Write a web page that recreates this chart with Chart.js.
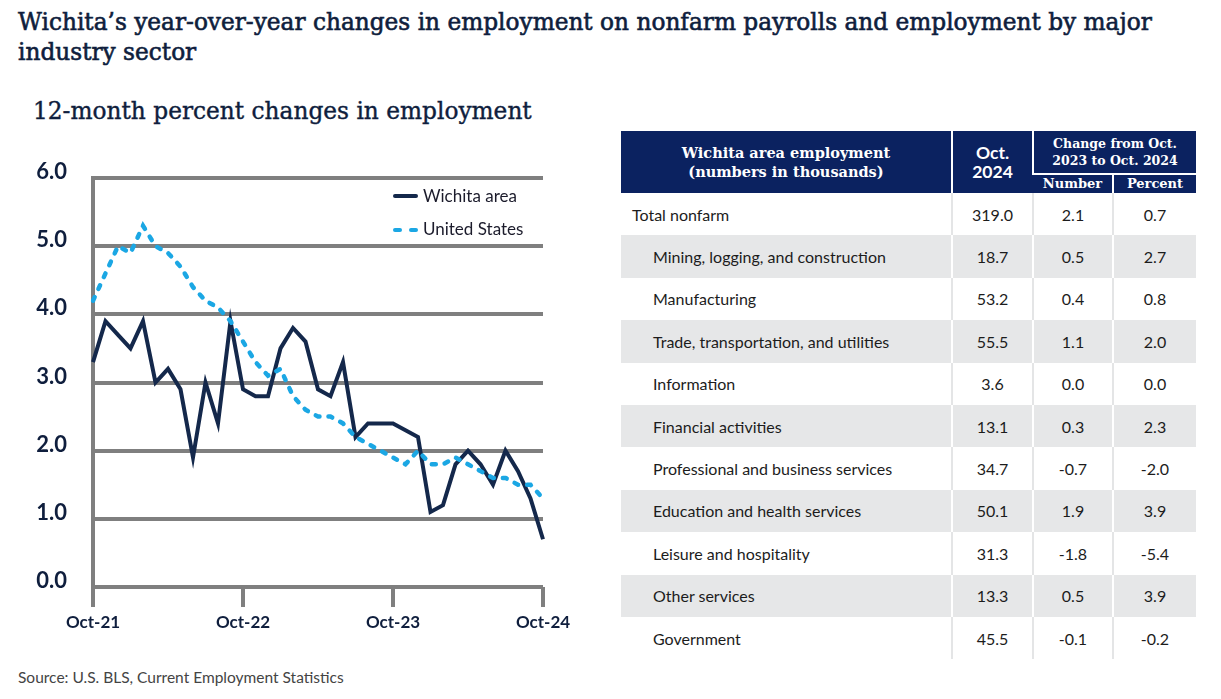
<!DOCTYPE html>
<html>
<head>
<meta charset="utf-8">
<script src="https://cdn.jsdelivr.net/npm/chart.js@4.4.1/dist/chart.umd.min.js"></script>
<style>
  body { margin: 0; background: #fff; }
  #page { position: relative; width: 1221px; height: 699px; overflow: hidden; background: #fff; }
  .slab { font-family: "DejaVu Serif", serif; color: #0f1e3d; }
  #title { position: absolute; left: 18px; top: 7px; font-size: 20px; line-height: 30px; font-weight: normal; -webkit-text-stroke: 0.6px #0f1e3d; white-space: nowrap; }
  #subtitle { position: absolute; left: 33px; top: 97px; font-size: 21px; line-height: 28px; font-weight: normal; -webkit-text-stroke: 0.4px #0f1e3d; white-space: nowrap; }
  #chartBox { position: absolute; left: 0; top: 150px; width: 600px; height: 510px; }
  .leg { position: absolute; left: 423px; font-family: Lato, sans-serif; font-size: 17px; line-height: 20px; color: #1b1b2b; white-space: nowrap; }
  .swatch { position: absolute; height: 4px; border-radius: 2px; }
  #source { position: absolute; left: 18px; top: 667px; font-family: Lato, sans-serif; font-size: 15.5px; line-height: 20px; color: #444; }
  #tbl { position: absolute; left: 621px; top: 131px; width: 575px; border-collapse: collapse; table-layout: fixed; font-family: Lato, sans-serif; font-size: 16px; color: #1c1c1c; }
  #tbl th { background: #0b2260; color: #fff; font-weight: normal; padding: 0; text-align: center; border-left: 2px solid #fff; }
  #tbl th:first-child { border-left: none; }
  #tbl th.serif { font-family: "DejaVu Serif", serif; font-weight: bold; }
  #tbl td { padding: 0; text-align: center; height: 42.4px; border-left: 2px solid #e4e5e6; }
  #tbl td:first-child { text-align: left; padding-left: 32px; border-left: none; }
  #tbl tr.first td:first-child { padding-left: 11px; }
  #tbl tr.band td { background: #e6e7e8; border-left-color: #fff; }
  #tbl tr.sub th { border-top: 2px solid #fff; height: 18px; font-size: 13px; line-height: 18px; }
</style>
</head>
<body>
<div id="page">
  <div id="title" class="slab"><span id="t1">Wichita’s year-over-year changes in employment on nonfarm payrolls and employment by major</span><br>industry sector</div>
  <div id="subtitle" class="slab"><span id="t2">12-month percent changes in employment</span></div>
  <div id="chartBox"><canvas id="lineChart" width="600" height="510"></canvas></div>
  <div class="swatch" style="left:393px;top:194px;width:25px;background:#14284b"></div>
  <div class="leg" style="top:186px">Wichita area</div>
  <div class="swatch" style="left:393px;top:228px;width:9px;background:#1ba7e4"></div>
  <div class="swatch" style="left:409px;top:228px;width:9px;background:#1ba7e4"></div>
  <div class="leg" style="top:219px">United States</div>
  <table id="tbl"></table>
  <div id="source">Source: U.S. BLS, Current Employment Statistics</div>
</div>
<script>
// Chart data
const months = [
  'Oct-21','Nov-21','Dec-21','Jan-22','Feb-22','Mar-22','Apr-22','May-22','Jun-22','Jul-22','Aug-22','Sep-22',
  'Oct-22','Nov-22','Dec-22','Jan-23','Feb-23','Mar-23','Apr-23','May-23','Jun-23','Jul-23','Aug-23','Sep-23',
  'Oct-23','Nov-23','Dec-23','Jan-24','Feb-24','Mar-24','Apr-24','May-24','Jun-24','Jul-24','Aug-24','Sep-24',
  'Oct-24'
];
const wichita = [3.3, 3.9, 3.7, 3.5, 3.9, 3.0, 3.2, 2.9, 1.9, 3.0, 2.4, 3.9,
                 2.9, 2.8, 2.8, 3.5, 3.8, 3.6, 2.9, 2.8, 3.3, 2.2, 2.4, 2.4,
                 2.4, 2.3, 2.2, 1.1, 1.2, 1.8, 2.0, 1.8, 1.5, 2.0, 1.7, 1.3,
                 0.7];
const unitedStates = [4.2, 4.6, 5.0, 4.9, 5.3, 5.0, 4.9, 4.7, 4.4, 4.2, 4.1, 3.9,
                      3.6, 3.3, 3.1, 3.2, 2.8, 2.6, 2.5, 2.5, 2.4, 2.2, 2.1, 2.0,
                      1.9, 1.8, 2.0, 1.8, 1.8, 1.9, 1.8, 1.7, 1.6, 1.6, 1.5, 1.5,
                      1.3];
const yTicks = [0, 1, 2, 3, 4, 5, 6];

// Table data
const sectors = ['Total nonfarm', 'Mining, logging, and construction', 'Manufacturing',
  'Trade, transportation, and utilities', 'Information', 'Financial activities',
  'Professional and business services', 'Education and health services',
  'Leisure and hospitality', 'Other services', 'Government'];
const oct2024 = [319.0, 18.7, 53.2, 55.5, 3.6, 13.1, 34.7, 50.1, 31.3, 13.3, 45.5];
const changeNumber = [2.1, 0.5, 0.4, 1.1, 0.0, 0.3, -0.7, 1.9, -1.8, 0.5, -0.1];
const changePercent = [0.7, 2.7, 0.8, 2.0, 0.0, 2.3, -2.0, 3.9, -5.4, 3.9, -0.2];

const gridGray = '#7f7f7f';
const navy = '#14284b';

// Fit the headline widths to the layout
function fitWidth(id, target) {
  const span = document.getElementById(id);
  const box = span.parentElement;
  const size = parseFloat(getComputedStyle(box).fontSize);
  const w = span.getBoundingClientRect().width;
  box.style.fontSize = (size * target / w).toFixed(2) + 'px';
}
fitWidth('t1', 1134);
fitWidth('t2', 499);

// Build the table
function buildTable() {
  const tbl = document.getElementById('tbl');
  let html = '<colgroup><col style="width:331px"><col style="width:81px"><col style="width:80px"><col style="width:83px"></colgroup>';
  html += '<tr style="height:43px">' +
    '<th rowspan="2" class="serif" style="font-size:14.5px;line-height:19px">Wichita area employment<br>(numbers in thousands)</th>' +
    '<th rowspan="2" style="font-size:17.5px;line-height:19px;font-weight:bold">Oct.<br>2024</th>' +
    '<th colspan="2" class="serif" style="font-size:12.5px;line-height:17px">Change from Oct.<br>2023 to Oct. 2024</th></tr>';
  html += '<tr class="sub"><th class="serif">Number</th><th class="serif">Percent</th></tr>';
  sectors.forEach((name, i) => {
    const cls = (i === 0 ? 'first' : '') + (i % 2 === 1 ? ' band' : '');
    html += '<tr class="' + cls + '"><td>' + name + '</td><td>' + oct2024[i].toFixed(1) +
      '</td><td>' + changeNumber[i].toFixed(1) + '</td><td>' + changePercent[i].toFixed(1) + '</td></tr>';
  });
  tbl.innerHTML = html;
}
buildTable();

// Line chart
const ctx = document.getElementById('lineChart').getContext('2d');
new Chart(ctx, {
  type: 'line',
  data: {
    labels: months,
    datasets: [
      {
        label: 'Wichita area',
        data: wichita,
        borderColor: navy,
        borderWidth: 4,
        pointRadius: 0,
        tension: 0,
        order: 1
      },
      {
        label: 'United States',
        data: unitedStates,
        borderColor: '#1ba7e4',
        borderWidth: 4.5,
        borderDash: [4, 9],
        borderCapStyle: 'round',
        pointRadius: 0,
        tension: 0,
        order: 0
      }
    ]
  },
  options: {
    responsive: false,
    animation: false,
    layout: { padding: { top: 28, right: 57, left: 0, bottom: 0 } },
    plugins: {
      legend: { display: false },
      tooltip: { enabled: false }
    },
    scales: {
      x: {
        type: 'category',
        offset: false,
        border: { display: false },
        grid: {
          drawOnChartArea: false,
          drawTicks: true,
          tickLength: 20,
          lineWidth: 4,
          color: (c) => (c.index % 12 === 0 ? gridGray : 'rgba(0,0,0,0)')
        },
        ticks: {
          autoSkip: false,
          maxRotation: 0,
          padding: 5,
          color: '#0f1e3d',
          font: { family: 'Lato', size: 17, weight: 'bold' },
          callback: (v, i) => (i % 12 === 0 ? months[i] : '')
        },
        afterFit: (scale) => { scale.height = 73; }
      },
      y: {
        min: yTicks[0],
        max: yTicks[yTicks.length - 1],
        border: { display: true, color: gridGray, width: 4 },
        grid: {
          drawTicks: false,
          lineWidth: 4,
          color: gridGray
        },
        ticks: {
          stepSize: 1,
          padding: 26,
          labelOffset: -6,
          color: '#0f1e3d',
          font: { family: 'Lato', size: 22, weight: 'bold' },
          callback: (v) => v.toFixed(1)
        },
        afterFit: (scale) => {
          scale.width = 93;
          scale.paddingTop = 0;
          scale.paddingBottom = 0;
        }
      }
    }
  }
});
</script>
</body>
</html>
